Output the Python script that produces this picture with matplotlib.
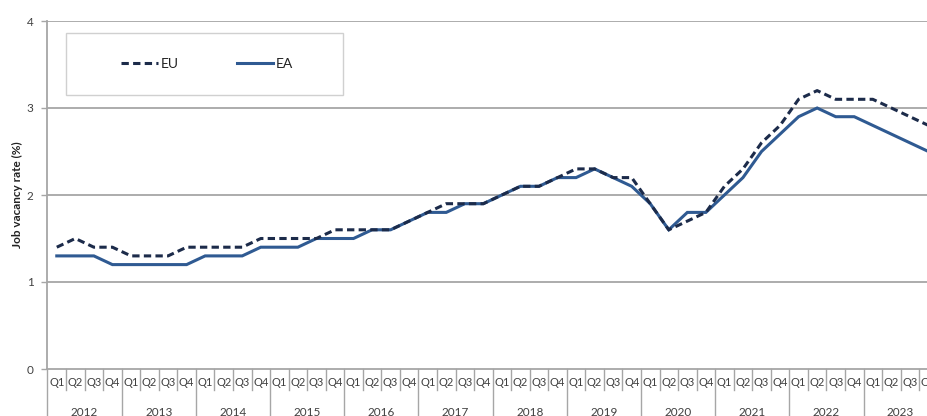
import matplotlib
matplotlib.use("Agg")
import matplotlib.pyplot as plt
from matplotlib.patches import Rectangle
from matplotlib.lines import Line2D
import matplotlib.transforms as mtransforms

plt.rcParams['font.family'] = ['Lato', 'DejaVu Sans']

years = [str(y) for y in range(2012, 2024)]
quarters = ["Q1", "Q2", "Q3", "Q4"]

eu = [1.4, 1.5, 1.4, 1.4,
      1.3, 1.3, 1.3, 1.4,
      1.4, 1.4, 1.4, 1.5,
      1.5, 1.5, 1.5, 1.6,
      1.6, 1.6, 1.6, 1.7,
      1.8, 1.9, 1.9, 1.9,
      2.0, 2.1, 2.1, 2.2,
      2.3, 2.3, 2.2, 2.2,
      1.9, 1.6, 1.7, 1.8,
      2.1, 2.3, 2.6, 2.8,
      3.1, 3.2, 3.1, 3.1,
      3.1, 3.0, 2.9, 2.8]

ea = [1.3, 1.3, 1.3, 1.2,
      1.2, 1.2, 1.2, 1.2,
      1.3, 1.3, 1.3, 1.4,
      1.4, 1.4, 1.5, 1.5,
      1.5, 1.6, 1.6, 1.7,
      1.8, 1.8, 1.9, 1.9,
      2.0, 2.1, 2.1, 2.2,
      2.2, 2.3, 2.2, 2.1,
      1.9, 1.6, 1.8, 1.8,
      2.0, 2.2, 2.5, 2.7,
      2.9, 3.0, 2.9, 2.9,
      2.8, 2.7, 2.6, 2.5]

yticks = [0, 1, 2, 3, 4]

W, H = 928, 416
fig = plt.figure(figsize=(W / 100, H / 100), dpi=100)
left_px, right_px, top_px, bot_px = 47.5, 937.7, 21, 369
ax = fig.add_axes([left_px / W, 1 - bot_px / H,
                   (right_px - left_px) / W, (bot_px - top_px) / H])

grid_col = "#a6a6a6"
text_col = "#404040"
eu_col = "#1c2b4a"
ea_col = "#2f5a92"

n = len(eu)
x = list(range(n))
ax.set_xlim(-0.5, n - 0.5)
ax.set_ylim(0, 4)

for v in yticks[1:]:
    ax.axhline(v, color=grid_col, lw=1.3, zorder=1)

ax.plot(x, ea, color=ea_col, lw=2.2, solid_joinstyle='miter', zorder=3, label="EA")
ax.plot(x, eu, color=eu_col, lw=2.2, linestyle=(0, (2.4, 1.4)), zorder=4, label="EU")

for s in ["top", "right"]:
    ax.spines[s].set_visible(False)
ax.spines["left"].set_color(grid_col)
ax.spines["left"].set_linewidth(1.3)
ax.spines["bottom"].set_color(grid_col)
ax.spines["bottom"].set_linewidth(1.3)

ax.set_yticks(yticks)
ax.set_yticklabels([str(v) for v in yticks], fontsize=8.5, color=text_col)
ax.tick_params(axis="y", length=4, width=1.0, color=grid_col, pad=6)
ax.set_xticks([])
ax.set_ylabel("Job vacancy rate (%)", fontsize=8.5, fontweight="bold",
              color="#222222")
ax.yaxis.set_label_coords((23 - left_px) / (right_px - left_px), 0.5)

# two-level category axis: quarters, then years
trans = mtransforms.blended_transform_factory(ax.transData, ax.transAxes)
ax_h = bot_px - top_px
q_sep = -21 / ax_h
y_sep = -50 / ax_h
for i in range(n + 1):
    xb = i - 0.5
    is_year = (i % 4 == 0)
    ax.add_line(Line2D([xb, xb], [0, y_sep if is_year else q_sep],
                       transform=trans, color=grid_col, lw=1.0, clip_on=False))
for i in range(n):
    ax.text(i, -14 / ax_h, quarters[i % 4], transform=trans, ha="center",
            va="center", fontsize=8, color=text_col, clip_on=False)
for k, yr in enumerate(years):
    ax.text(4 * k + 1.5, -43 / ax_h, yr, transform=trans, ha="center",
            va="center", fontsize=8.5, color=text_col, clip_on=False)

# legend box
bx0 = (66 - left_px) / (right_px - left_px)
bx1 = (343 - left_px) / (right_px - left_px)
by0 = (bot_px - 95) / ax_h
by1 = (bot_px - 33) / ax_h
ax.add_patch(Rectangle((bx0, by0), bx1 - bx0, by1 - by0, transform=ax.transAxes,
                       facecolor="white", edgecolor="#d0d0d0", lw=1.0, zorder=5))
handles = [Line2D([], [], color=eu_col, lw=2.2, linestyle=(0, (2.4, 1.4))),
           Line2D([], [], color=ea_col, lw=2.2)]
leg = ax.legend(handles, ["EU", "EA"], ncol=2, frameon=False, fontsize=10,
                loc="center", bbox_to_anchor=((bx0 + bx1) / 2 + 0.003, (by0 + by1) / 2),
                handlelength=2.6, handletextpad=0.2, columnspacing=4.2,
                labelcolor="#222222")
leg.set_zorder(6)

fig.savefig("out.png", dpi=100)
